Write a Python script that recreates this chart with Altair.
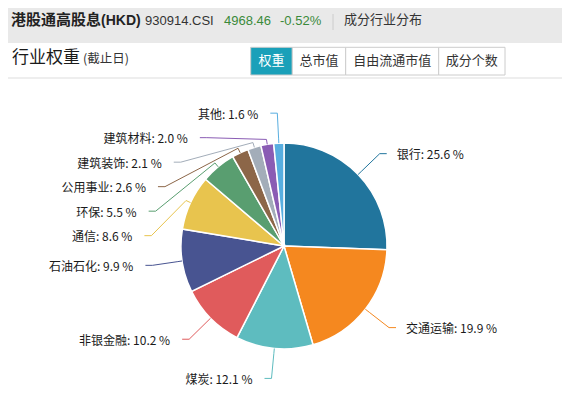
import math
import altair as alt
import pandas as pd

# ---------------- data ----------------
categories = ["银行", "交通运输", "煤炭", "非银金融", "石油石化", "通信", "环保",
              "公用事业", "建筑装饰", "建筑材料", "其他"]
weights = [25.6, 19.9, 12.1, 10.2, 9.9, 8.6, 5.5, 2.6, 2.1, 2.0, 1.6]
colors = ["#21759d", "#f5881f", "#5ebcbf", "#e05b5c", "#485491", "#e8c44e",
          "#599e70", "#8c6648", "#a3adb9", "#8a5cb4", "#58aee0"]

header_title = "港股通高股息"
header_ccy = "(HKD)"
index_code = "930914.CSI"
index_level = "4968.46"
index_change = "-0.52%"
header_section = "成分行业分布"
panel_title = "行业权重"
panel_note = "(截止日)"
tabs = ["权重", "总市值", "自由流通市值", "成分个数"]

# ---------------- layout constants ----------------
W, H = 554, 390
CX, CY, R = 276, 238, 103
L1, L2, STUB = 30, 7, 5
GAP_L, GAP_R = 12, 10
SPACING = 24.5
CJK = "Noto Sans CJK SC"
LATIN = "Liberation Sans"

# ---------------- label layout (echarts-like) ----------------
total = sum(weights)
items = []
cum = 0.0
for i, (cat, w) in enumerate(zip(categories, weights)):
    mid = (cum + w / 2) / total * 2 * math.pi
    cum += w
    ux, uy = math.sin(mid), -math.cos(mid)
    side = 1 if ux >= 0 else -1
    items.append(dict(cat=cat, w=w, idx=i, ux=ux, uy=uy, side=side,
                      bx=(R + L1) * ux, ly=(R + L1) * uy))

rA = R + L1
for side in (1, -1):
    group = sorted([it for it in items if it["side"] == side], key=lambda it: it["ly"])
    shifted = False
    for a, b in zip(group, group[1:]):
        if b["ly"] < a["ly"] + SPACING:
            b["ly"] = a["ly"] + SPACING
            shifted = True
    for it in group:
        it["cx"] = it["bx"] + side * L2
    if shifted:
        for semi in ([it for it in group if it["ly"] <= 0], [it for it in group if it["ly"] > 0]):
            if not semi:
                continue
            far = max(semi, key=lambda it: abs(it["ly"]))
            dy0, dx0 = abs(far["ly"]), far["bx"]
            rB = math.sqrt(dy0 ** 2 / (1 - dx0 ** 2 / rA ** 2)) if abs(dx0) < rA else rA
            for it in semi:
                f = max(0.0, 1 - it["ly"] ** 2 / rB ** 2)
                it["cx"] = side * (math.sqrt(f) * rA + L2)

pie_df = pd.DataFrame({"cat": categories, "w": weights, "idx": list(range(len(categories)))})

line_rows = []
text_rows = []
for it in items:
    ux, uy, s = it["ux"], it["uy"], it["side"]
    pts = [(R * ux, R * uy), ((R + STUB) * ux, (R + STUB) * uy),
           (it["cx"] - s * L2, it["ly"]), (it["cx"], it["ly"])]
    for k, (px, py) in enumerate(pts):
        line_rows.append({"cat": it["cat"], "k": k, "x": px, "y": py})
    text_rows.append({"cat": it["cat"], "side": s,
                      "lab": f"{it['cat']}: {it['w']:.1f} %",
                      "tx": it["cx"] + (GAP_R if s > 0 else -GAP_L), "ty": it["ly"]})
line_df = pd.DataFrame(line_rows)
text_df = pd.DataFrame(text_rows)

xs = alt.Scale(domain=[-CX, W - CX], nice=False, zero=False)
ys = alt.Scale(domain=[-CY, H - CY], nice=False, zero=False, reverse=True)
color_scale = alt.Scale(domain=categories, range=colors)

one = pd.DataFrame({"a": [0]})


def deco_text(s, px, py, size, color="#333333", weight="normal", font=CJK, align="left"):
    return alt.Chart(pd.DataFrame({"t": [s]})).mark_text(
        align=align, baseline="middle", fontSize=size, color=color,
        fontWeight=weight, font=font
    ).encode(text="t:N", x=alt.value(px), y=alt.value(py))


def deco_rect(x0, x1, y0, y1, fill, stroke=None):
    kw = dict(fill=fill)
    if stroke:
        kw.update(stroke=stroke, strokeWidth=1)
    return alt.Chart(one).mark_rect(**kw).encode(
        x=alt.value(x0), x2=alt.value(x1), y=alt.value(y0), y2=alt.value(y1))


layers = []
# white panel
layers.append(deco_rect(0, W, 35, H, "white"))
# separator under panel title
layers.append(alt.Chart(one).mark_rule(color="#dddddd", strokeWidth=1).encode(
    x=alt.value(0), x2=alt.value(W), y=alt.value(70)))

# header line
layers.append(deco_text(header_title, 3, 12, 15, color="#222222", weight="bold"))
layers.append(deco_text(header_ccy, 93, 12.5, 14, color="#222222", weight="bold", font=LATIN))
layers.append(deco_text(index_code, 137, 13, 13, color="#333333", font=LATIN))
layers.append(deco_text(index_level, 216, 13, 13, color="#3a8a3a", font=LATIN))
layers.append(deco_text(index_change, 272, 13, 13, color="#3a8a3a", font=LATIN))
layers.append(alt.Chart(one).mark_rule(color="#cccccc", strokeWidth=1).encode(
    x=alt.value(325), y=alt.value(6), y2=alt.value(22)))
layers.append(deco_text(header_section, 336, 12, 13, color="#333333"))

# panel title
layers.append(deco_text(panel_title, 4, 50, 17, color="#1a1a1a"))
layers.append(deco_text(panel_note, 75, 51, 12.5, color="#333333"))

# tabs
tab_bounds = [(242.7, 284.3), (284.3, 337.7), (337.7, 430.7), (430.7, 497.0)]
for i, (name, (x0, x1)) in enumerate(zip(tabs, tab_bounds)):
    active = i == 0
    layers.append(deco_rect(x0, x1, 39.3, 67, "#1aa0b9" if active else "white", stroke="#cccccc"))
    layers.append(deco_text(name, (x0 + x1) / 2, 53, 13,
                            color="white" if active else "#333333", align="center"))

# pie
pie = alt.Chart(pie_df).mark_arc(outerRadius=R, stroke="white", strokeWidth=1.5).encode(
    theta=alt.Theta("w:Q", stack=True),
    order=alt.Order("idx:Q"),
    color=alt.Color("cat:N", scale=color_scale, legend=None),
    x=alt.XDatum(0, type="quantitative", scale=xs, axis=None),
    y=alt.YDatum(0, type="quantitative", scale=ys, axis=None),
)
layers.append(pie)

# leader lines
lines = alt.Chart(line_df).mark_line(strokeWidth=1, interpolate="linear").encode(
    x=alt.X("x:Q", scale=xs, axis=None),
    y=alt.Y("y:Q", scale=ys, axis=None),
    color=alt.Color("cat:N", scale=color_scale, legend=None),
    order=alt.Order("k:Q"),
)
layers.append(lines)

# labels
for s, align in ((1, "left"), (-1, "right")):
    layers.append(
        alt.Chart(text_df[text_df["side"] == s]).mark_text(
            align=align, baseline="middle", fontSize=12, font=CJK, color="#1a1a1a", dy=1.5
        ).encode(
            x=alt.X("tx:Q", scale=xs, axis=None),
            y=alt.Y("ty:Q", scale=ys, axis=None),
            text="lab:N",
        )
    )

chart = alt.layer(*layers).properties(
    width=W, height=H, padding=0,
    autosize=alt.AutoSizeParams(type="none"),
    background="#e9e9e9",
).configure_view(stroke=None)

chart.save("out.html", embed_options={"renderer": "svg", "actions": False})
